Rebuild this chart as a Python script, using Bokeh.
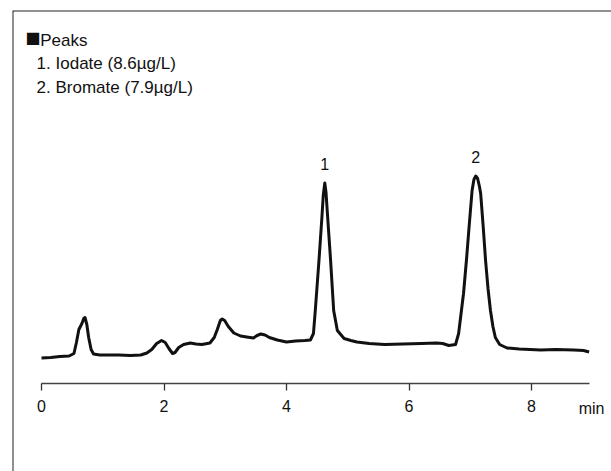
from bokeh.plotting import figure
from bokeh.models import Range1d, LinearAxis, FixedTicker, Label, Span, ColumnDataSource
from bokeh.core.properties import value
from bokeh.embed import file_html
from bokeh.resources import INLINE

# Chromatogram trace (retention time in min, detector signal in arbitrary units)
time_min = [0.00, 0.15, 0.30, 0.45, 0.53, 0.57, 0.61, 0.66, 0.69, 0.71, 0.74, 0.77, 0.81, 0.85,
            0.95, 1.10, 1.26, 1.45, 1.62, 1.72, 1.80, 1.88, 1.96, 2.02, 2.08, 2.14, 2.18, 2.24,
            2.32, 2.43, 2.52, 2.62, 2.75, 2.82, 2.87, 2.92, 2.95, 2.99, 3.05, 3.14, 3.25, 3.35,
            3.46, 3.52, 3.58, 3.65, 3.72, 3.85, 4.00, 4.15, 4.30, 4.39, 4.44, 4.47, 4.53, 4.58,
            4.60, 4.625, 4.645, 4.67, 4.72, 4.77, 4.83, 4.94, 5.05, 5.15, 5.35, 5.60, 5.90, 6.20,
            6.45, 6.55, 6.65, 6.76, 6.81, 6.85, 6.89, 6.94, 6.98, 7.03, 7.06, 7.09, 7.12, 7.15,
            7.17, 7.21, 7.25, 7.29, 7.33, 7.37, 7.41, 7.48, 7.60, 7.80, 8.15, 8.40, 8.69, 8.85, 8.94]
signal = [25.5, 26, 27, 27.5, 30, 41, 54, 60, 65, 66, 59, 46, 34, 29.5,
          28.5, 28.5, 28.5, 28, 28.5, 30.5, 34, 40, 43, 41, 35, 30, 31, 36,
          39, 40.5, 39.5, 39, 40.5, 46, 54, 63, 64.5, 63, 57, 50.5, 47.5, 46.5,
          45.5, 48, 49.5, 48.5, 46, 43.5, 41.5, 42.5, 43, 43.5, 50, 73, 123, 168,
          188, 200.5, 191, 168, 123, 73, 53, 45, 43, 41.5, 40, 39, 39.5, 40,
          40.5, 40, 38, 39, 50, 70, 90, 125, 156, 193, 204, 207.5, 205, 197,
          190, 158, 123, 95, 73, 57, 46, 39, 35.5, 34.5, 33.5, 34, 33.5, 33, 31.5]

# Peak annotations
peak_labels = ["1", "2"]
peak_times = [4.625, 7.09]
peak_heights = [200.5, 207.5]
legend_title = "Peaks"
peak_names = ["1. Iodate (8.6\u00b5g/L)", "2. Bromate (7.9\u00b5g/L)"]

# Axis ticks
tick_values = [0, 2, 4, 6, 8]
axis_end = 8.95
axis_unit = "min"

FONT = "Liberation Sans"
INK = "#111111"

p = figure(width=611, height=471, output_backend="svg", toolbar_location=None,
           x_range=Range1d(-0.4735, 9.306), y_range=Range1d(-88, 373),
           x_axis_location=None, y_axis_location=None,
           min_border_left=12, min_border_top=10, min_border_right=0, min_border_bottom=0)
p.outline_line_color = None
p.background_fill_color = "white"
p.border_fill_color = "white"
p.xgrid.visible = False
p.ygrid.visible = False
for r in list(p.center):
    r.visible = False

# frame border (top and left)
p.add_layout(Span(location=p.x_range.start, dimension="height", line_color="#222222", line_width=2))
p.add_layout(Span(location=p.y_range.end, dimension="width", line_color="#222222", line_width=2))

# trace
p.line(time_min, signal, line_color=INK, line_width=3, line_join="round")

# x axis at fixed location
ax = LinearAxis(fixed_location=0, bounds=(0, axis_end), ticker=FixedTicker(ticks=tick_values))
ax.axis_line_color = "#444444"
ax.axis_line_width = 1.3
ax.major_tick_line_color = "#333333"
ax.major_tick_line_width = 1.3
ax.major_tick_out = 7
ax.major_tick_in = 0
ax.minor_tick_line_color = None
ax.major_label_text_font = FONT
ax.major_label_text_font_size = "16px"
ax.major_label_text_color = INK
ax.major_label_standoff = 9
p.add_layout(ax, "below")

p.add_layout(Label(x=8.98, y=-25, text=axis_unit, text_font=FONT, text_font_size="16px",
                   text_align="center", text_baseline="middle", text_color=INK))

# peak numbers
src = ColumnDataSource(dict(x=peak_times, y=peak_heights, t=peak_labels))
p.text(x="x", y="y", text="t", source=src, text_font=value(FONT), text_font_size="16px",
       text_align="center", text_baseline="bottom", y_offset=-13, text_color=INK)

# legend block
p.add_layout(Label(x=-0.265, y=346.5, text="\u25a0", text_font="DejaVu Sans", text_font_size="16px",
                   text_baseline="middle", text_color=INK))
p.add_layout(Label(x=-0.02, y=343, text=legend_title, text_font=FONT, text_font_size="17px",
                   text_baseline="middle", text_color=INK))
for i, name in enumerate(peak_names):
    p.add_layout(Label(x=-0.08, y=320 - 24 * i, text=name, text_font=FONT, text_font_size="17px",
                       text_baseline="middle", text_color=INK))

open("out.html", "w").write(file_html(p, INLINE))
